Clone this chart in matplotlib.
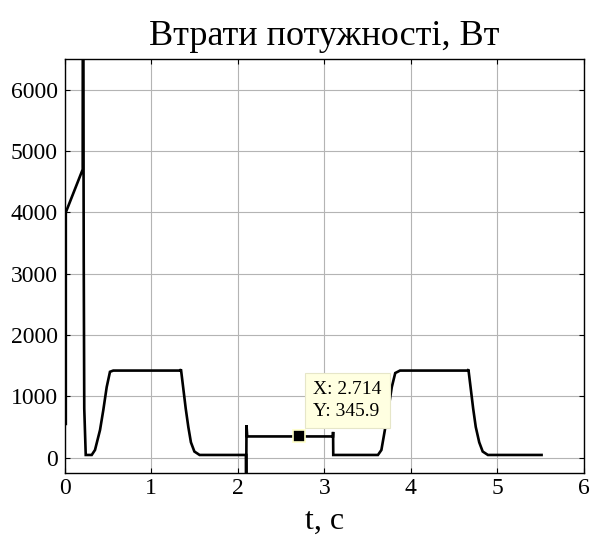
import matplotlib
matplotlib.use("Agg")
import matplotlib.pyplot as plt

# power loss curve
t = [0.015, 0.015, 0.21, 0.212, 0.214, 0.222, 0.228, 0.245, 0.28, 0.314, 0.352,
     0.41, 0.448, 0.487, 0.525, 0.563, 1.335, 1.345, 1.37, 1.40, 1.43, 1.46,
     1.50, 1.56, 2.095, 2.098, 2.102, 2.11, 3.10, 3.102, 3.104, 3.62, 3.66,
     3.70, 3.74, 3.78, 3.82, 3.875, 4.655, 4.665, 4.69, 4.72, 4.75, 4.79,
     4.83, 4.89, 5.51]
p = [550, 4000, 4700, 9000, 9000, 3200, 800, 44, 44, 44, 125,
     450, 776, 1150, 1400, 1420, 1420, 1440, 1150, 800, 500, 250,
     100, 44, 44, -600, 530, 346, 346, 420, 44, 44, 125,
     450, 780, 1150, 1380, 1420, 1420, 1440, 1150, 800, 500, 250,
     100, 44, 44]

tip_x = 2.714
tip_y = 345.9

xticks = [0, 1, 2, 3, 4, 5, 6]
yticks = [0, 1000, 2000, 3000, 4000, 5000, 6000]

plt.rcParams['font.family'] = ['Liberation Serif', 'DejaVu Serif']

fig = plt.figure(figsize=(5.93, 5.35), dpi=100)
ax = fig.add_axes([0.1088, 0.1159, 0.876, 0.7738])

ax.plot(t, p, color='black', linewidth=1.9, solid_joinstyle='miter')

ax.set_xlim(0, 6)
ax.set_ylim(-250, 6500)
ax.set_xticks(xticks)
ax.set_yticks(yticks)
ax.tick_params(direction='in', top=True, right=True, length=3.5,
               labelsize=17, width=0.8)
ax.tick_params(axis='y', pad=5)
ax.grid(True, color='#b4b4b4', linewidth=0.8, linestyle='-')
ax.set_axisbelow(True)
for s in ax.spines.values():
    s.set_linewidth(1.0)

ax.set_title('Втрати потужності, Вт', fontsize=26, pad=10)
ax.set_xlabel('t, c', fontsize=23, labelpad=6)

# data tip
ax.plot([tip_x], [tip_y], marker='s', markersize=8, color='black',
        markeredgecolor='#ffffc8', markeredgewidth=1.2, zorder=5)
ax.text(2.87, 930, 'X: %.3f\nY: %.1f' % (tip_x, tip_y), fontsize=14,
        ha='left', va='center', linespacing=1.35, zorder=6,
        bbox=dict(boxstyle='square,pad=0.42', facecolor='#ffffe1',
                  edgecolor='#e6e6c8', linewidth=0.8))

fig.savefig('out.png', dpi=100)
